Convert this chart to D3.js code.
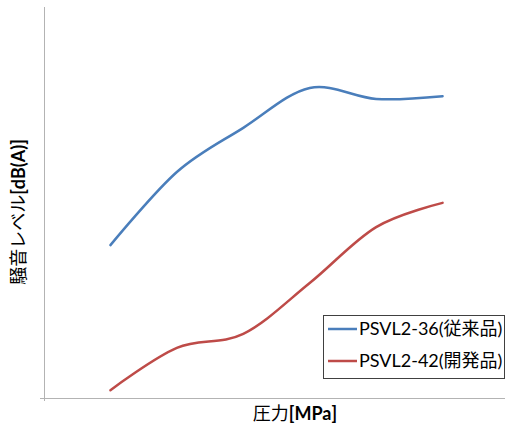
<!DOCTYPE html>
<html>
<head>
<meta charset="utf-8">
<script src="https://cdn.jsdelivr.net/npm/d3@7"></script>
<style>
  body { margin: 0; background: #fff; }
  text { font-family: Lato, "Noto Sans CJK JP", sans-serif; }
</style>
</head>
<body>
<div id="chart"></div>
<script>
(function() {
    let w = 505, h = 434

    // pressure steps (no tick labels shown in the original)
    let pressure = [1, 2, 3, 4, 5, 6]
    // noise level, relative units
    let oldModel = [39.1, 57.8, 69.1, 79.3, 76.5, 77.2]
    let newModel = [2.0, 12.8, 16.4, 29.4, 43.7, 49.9]
    let seriesNames = ["PSVL2-36(従来品)", "PSVL2-42(開発品)"]
    let seriesColors = ["#4a7ebb", "#be4b48"]

    let x = d3.scaleLinear().domain([0, 7]).range([44, 509])
    let y = d3.scaleLinear().domain([0, 100]).range([398, 7])

    let svg = d3.select("#chart")
                .append("svg")
                .attr("width", w)
                .attr("height", h)

    // axes
    svg.append("line")
        .attr("x1", x(0) + 0.5).attr("x2", x(0) + 0.5)
        .attr("y1", y(100)).attr("y2", y(0) + 3)
        .attr("stroke", "#b3b3b3")
    svg.append("line")
        .attr("x1", x(0) - 4).attr("x2", w)
        .attr("y1", y(0) + 0.5).attr("y2", y(0) + 0.5)
        .attr("stroke", "#b3b3b3")

    let line = d3.line()
                 .x((d, i) => x(pressure[i]))
                 .y(d => y(d))
                 .curve(d3.curveCardinal.tension(0))

    let series = [oldModel, newModel]
    svg.selectAll("path.series")
        .data(series)
        .enter()
        .append("path")
        .attr("class", "series")
        .attr("d", line)
        .attr("fill", "none")
        .attr("stroke", (d, i) => seriesColors[i])
        .attr("stroke-width", 2.5)
        .attr("stroke-linecap", "round")

    // axis titles
    let xt = svg.append("text")
        .attr("x", 295).attr("y", 420)
        .attr("text-anchor", "middle")
        .attr("font-size", 18)
        .attr("fill", "#000")
    xt.append("tspan").text("圧力")
    xt.append("tspan").attr("font-weight", "bold").text("[MPa]")

    let yt = svg.append("text")
        .attr("transform", "translate(25,212) rotate(-90)")
        .attr("text-anchor", "middle")
        .attr("font-size", 18)
        .attr("fill", "#000")
    yt.append("tspan").text("騒音レベル")
    yt.append("tspan").attr("font-weight", "bold").text("[dB(A)]")

    // legend
    let lg = svg.append("g")
    lg.append("rect")
        .attr("x", 323.5).attr("y", 315.5)
        .attr("width", 181).attr("height", 63)
        .attr("fill", "#fff")
        .attr("stroke", "#404040")
    let items = lg.selectAll("g.item")
        .data(seriesNames)
        .enter()
        .append("g")
        .attr("class", "item")
        .attr("transform", (d, i) => "translate(0," + (329 + i * 32) + ")")
    items.append("line")
        .attr("x1", 328).attr("x2", 357)
        .attr("stroke", (d, i) => seriesColors[i])
        .attr("stroke-width", 2.5)
    items.append("text")
        .attr("x", 359)
        .attr("dy", "0.35em")
        .attr("font-size", 18)
        .attr("fill", "#000")
        .text(d => d)
})()
</script>
</body>
</html>
